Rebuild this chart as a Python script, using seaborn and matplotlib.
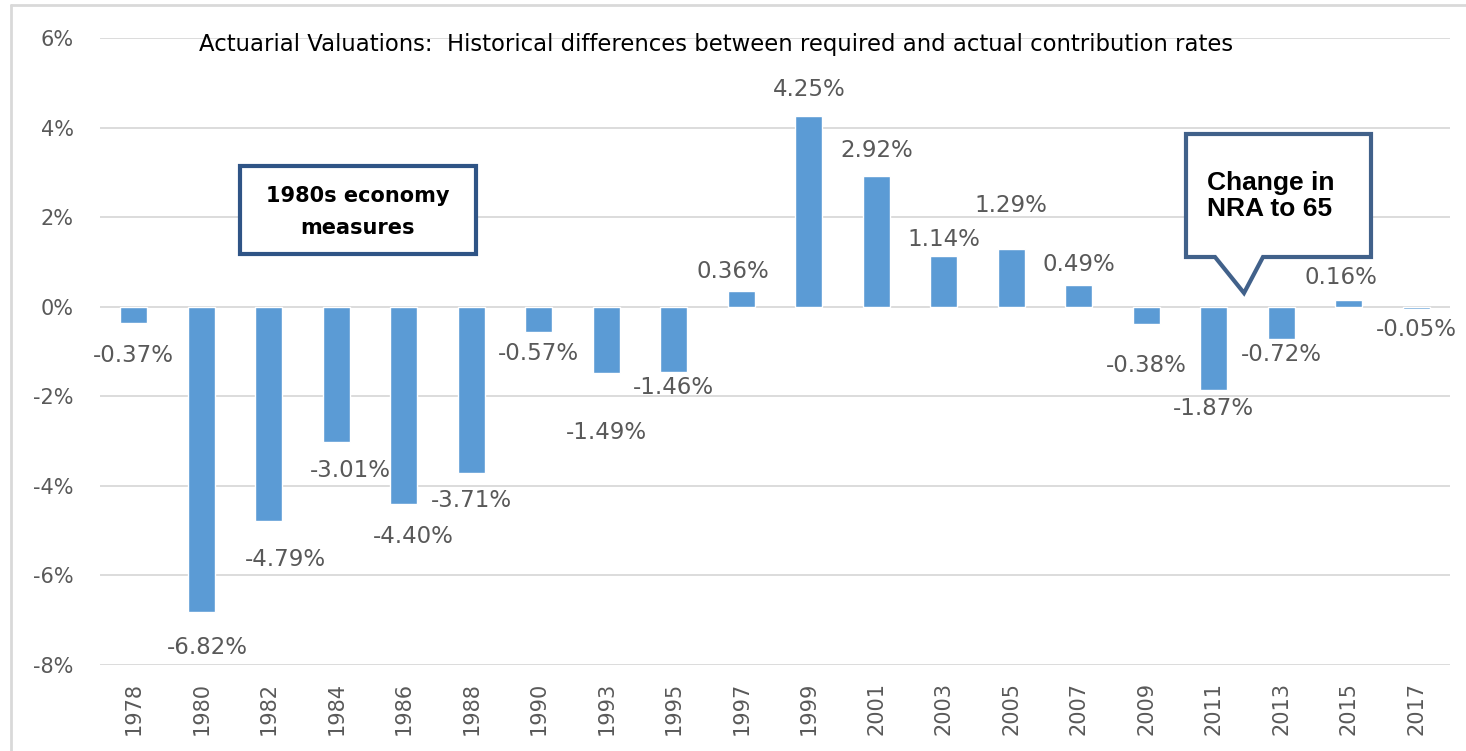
import numpy as np
import pandas as pd
import matplotlib
matplotlib.use("Agg")
import matplotlib.pyplot as plt
import seaborn as sns
from matplotlib.patches import Rectangle, Polygon
from matplotlib.lines import Line2D

# --- Data (contribution rate gap, % of pay) ---
years = ["1978", "1980", "1982", "1984", "1986", "1988", "1990", "1993", "1995", "1997",
         "1999", "2001", "2003", "2005", "2007", "2009", "2011", "2013", "2015", "2017"]
diffs = [-0.37, -6.82, -4.79, -3.01, -4.40, -3.71, -0.57, -1.49, -1.46, 0.36,
         4.25, 2.92, 1.14, 1.29, 0.49, -0.38, -1.87, -0.72, 0.16, -0.05]
y_ticks = [-8, -6, -4, -2, 0, 2, 4, 6]

title = "Actuarial Valuations:  Historical differences between required and actual contribution rates"
note_left = "1980s economy\nmeasures"
note_right = "Change in\nNRA to 65"

# label placement tweaks (pixels): distance from bar end, sideways shift
label_gap = [32, 35, 38, 29, 33, 28, 21, 59, 15, 19, 27, 25, 16, 43, 20, 42, 18, 16, 22, 21]
label_dx = [0, 6, 17, 14, 10, 0, 0, 0, 0, -8, 0, 0, 0, 0, 0, 0, 0, 0, -8, 0]

W, H = 1466, 751
BAR = "#5B9BD5"
GREY = "#595959"
GRID = "#D9D9D9"

sns.set_theme(style="white")
plt.rcParams["font.family"] = ["DejaVu Sans"]

fig = plt.figure(figsize=(W / 100, H / 100), dpi=100)
ax = fig.add_axes([100 / W, 1 - 665 / H, 1350 / W, 627 / H])

df = pd.DataFrame({"year": years, "diff": diffs})
sns.barplot(data=df, x="year", y="diff", color=BAR, saturation=1, width=0.4, ax=ax, zorder=3)

ax.set_ylim(-8, 6)
ax.set_yticks(y_ticks)
ax.set_yticklabels([f"{t}%" for t in y_ticks])
ax.set_xlabel("")
ax.set_ylabel("")
ax.yaxis.grid(True, color=GRID, linewidth=1.3, zorder=0)
ax.set_axisbelow(True)
for s in ax.spines.values():
    s.set_visible(False)
ax.tick_params(axis="y", length=0, pad=19, labelsize=15, labelcolor=GREY)
ax.tick_params(axis="x", length=0, pad=12, labelsize=15, labelcolor=GREY, labelrotation=90)

# data labels
for i, v in enumerate(diffs):
    sign = 1 if v >= 0 else -1
    ax.annotate(f"{v:.2f}%", (i, v), xytext=(label_dx[i], sign * label_gap[i]),
                textcoords="offset pixels", ha="center", va="center",
                fontsize=16.5, color=GREY)

fig.text(716 / W, 1 - 45 / H, title, ha="center", va="center", fontsize=16.4, color="black")

# outer frame (left and top edges only)
fig.add_artist(Line2D([11 / W, 11 / W], [0, 1 - 5 / H], color=GRID, lw=2, transform=fig.transFigure))
fig.add_artist(Line2D([11 / W, 1], [1 - 5 / H, 1 - 5 / H], color=GRID, lw=2, transform=fig.transFigure))

# left annotation box
fig.add_artist(Rectangle((240 / W, 1 - 254 / H), 236 / W, 88 / H, transform=fig.transFigure,
                         facecolor="white", edgecolor="#2F5486", lw=3, zorder=5))
fig.text(358 / W, 1 - 212 / H, note_left, ha="center", va="center", fontsize=15,
         fontweight="bold", color="black", linespacing=1.7, zorder=6)

# right callout with pointer
pts = [(1186, 134), (1371, 134), (1371, 257), (1263, 257), (1244, 293), (1215, 257), (1186, 257)]
fig.add_artist(Polygon([(x / W, 1 - y / H) for x, y in pts], closed=True, transform=fig.transFigure,
                       facecolor="white", edgecolor="#41618A", lw=3, joinstyle="miter", zorder=5))
fig.text(1207 / W, 1 - 196 / H, note_right, ha="left", va="center", fontsize=19,
         fontweight="bold", family="Liberation Sans", color="black", linespacing=1.15, zorder=6)

fig.savefig("out.png", dpi=100)
